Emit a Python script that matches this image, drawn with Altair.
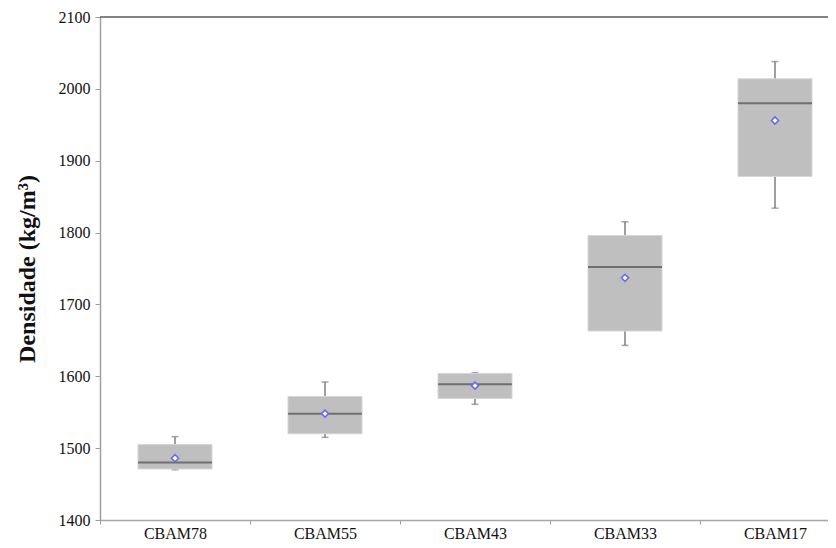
import altair as alt
import pandas as pd

categories = ["CBAM78", "CBAM55", "CBAM43", "CBAM33", "CBAM17"]
whisker_low = [1470, 1515, 1561, 1643, 1834]
q1 = [1471, 1520, 1569, 1663, 1878]
median = [1480, 1548, 1589, 1752, 1980]
q3 = [1505, 1572, 1604, 1796, 2014]
whisker_high = [1516, 1592, 1605, 1815, 2038]
mean = [1486, 1548, 1587, 1737, 1956]
y_ticks = [1400, 1500, 1600, 1700, 1800, 1900, 2000, 2100]

df = pd.DataFrame({
    "cat": categories, "lo": whisker_low, "q1": q1, "med": median,
    "q3": q3, "hi": whisker_high, "mean": mean,
})

FONT = "Liberation Serif"
ysc = alt.Scale(domain=[1400, 2100], nice=False, zero=False)
yax = alt.Axis(values=y_ticks, format="d", title="Densidade (kg/m³)", grid=False,
               domainColor="#a0a0a0", domainWidth=1.5, tickColor="#9a9a9a",
               tickSize=5, labelPadding=5, labelFont=FONT, labelFontSize=16,
               labelColor="#111111", titleFont=FONT, titleFontSize=24,
               titleFontWeight="bold", titleColor="#111111", titlePadding=19)
xax = alt.Axis(title=None, labelAngle=0, tickBand="extent", grid=False,
               domainColor="#a6a6a6", domainWidth=1.5, tickColor="#9a9a9a",
               tickSize=4, labelPadding=1, labelFont=FONT, labelFontSize=16,
               labelColor="#111111")
xenc = alt.X("cat:N", sort=categories,
             scale=alt.Scale(paddingInner=0, paddingOuter=0), axis=xax)

base = alt.Chart(df)

whisk = base.mark_rule(color="#7f7f7f", strokeWidth=1.5).encode(
    x=xenc, y=alt.Y("lo:Q", scale=ysc, axis=yax), y2="hi:Q")
cap_lo = base.mark_tick(color="#7f7f7f", size=7, thickness=1.5).encode(
    x=xenc, y=alt.Y("lo:Q", scale=ysc, axis=yax))
cap_hi = base.mark_tick(color="#7f7f7f", size=7, thickness=1.5).encode(
    x=xenc, y=alt.Y("hi:Q", scale=ysc, axis=yax))
box = base.mark_bar(size=74, color="#bfbfbf", stroke="#d6d6d6", strokeWidth=1).encode(
    x=xenc, y=alt.Y("q1:Q", scale=ysc, axis=yax), y2="q3:Q")
med = base.mark_tick(size=74, thickness=2, color="#4d4d4d").encode(
    x=xenc, y=alt.Y("med:Q", scale=ysc, axis=yax))
mn = base.mark_point(shape="diamond", filled=True, fill="white", stroke="#6a6af0",
                     strokeWidth=1.6, size=50, opacity=1).encode(
    x=xenc, y=alt.Y("mean:Q", scale=ysc, axis=yax))

top = alt.Chart(pd.DataFrame({"v": [2100]})).mark_rule(
    color="#5a5a5a", strokeWidth=1.5).encode(y=alt.Y("v:Q", scale=ysc, axis=yax))

chart = alt.layer(whisk, cap_lo, cap_hi, box, med, mn, top).properties(
    width=750, height=503,
    autosize=alt.AutoSizeParams(type="none"),
    padding={"left": 92, "top": 9, "right": -22, "bottom": 20},
    background="white",
).configure_view(stroke=None).configure_axis(
    labelFont=FONT, titleFont=FONT
)

chart.save("out.html", embed_options={"renderer": "svg", "actions": False})
